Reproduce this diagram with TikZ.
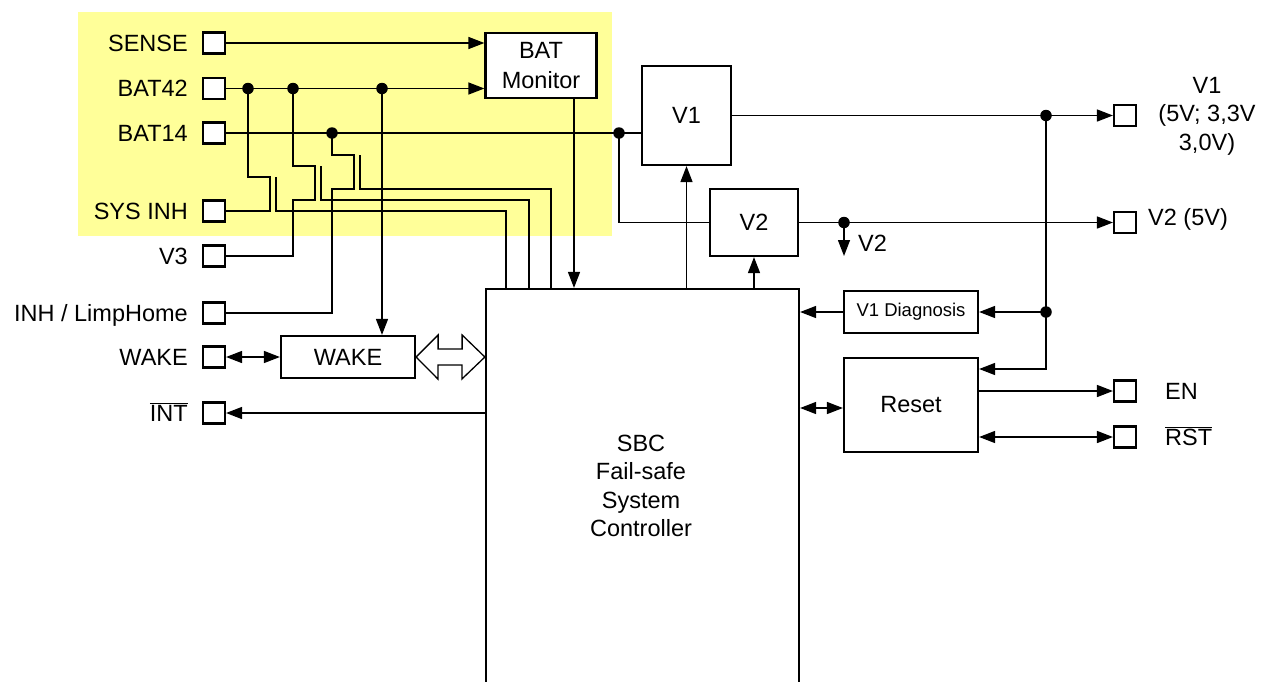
\documentclass[tikz,border=0pt]{standalone}
\usepackage{fontspec}
\setmainfont{Liberation Sans}
\usetikzlibrary{arrows.meta,calc}
\definecolor{hl}{HTML}{FFFF99}
\tikzset{
  txt/.style={font=\fontsize{23.5}{28.5}\selectfont, inner sep=0pt},
  blk/.style={draw, line width=2.2pt, fill=white, inner sep=0pt, align=center, font=\fontsize{23.5}{30}\selectfont},
  pinbox/.style={draw, line width=2.1pt, fill=white, minimum width=22pt, minimum height=21pt, inner sep=0pt},
  wire/.style={line width=1.4pt},
  arr/.style={wire, -{Triangle[length=16pt,width=12pt]}},
  darr/.style={wire, {Triangle[length=16pt,width=12pt]}-{Triangle[length=16pt,width=12pt]}},
  jdot/.style={circle, fill, inner sep=0pt, minimum size=11.5pt},
}
\begin{document}
\begin{tikzpicture}[x=1pt,y=-1pt]
\useasboundingbox (0,0) rectangle (1269,681);
\clip (0,0) rectangle (1269,681);
\fill[hl] (78,12) rectangle (612,236);

% left pins
\foreach \n/\y in {SENSE/43, BATa/88.5, BATb/133, SYS/211, Vthree/256, INH/313, WAKE/357, INT/413}
  \node[pinbox] (p\n) at (214,\y) {};
\node[txt, anchor=base east] (lSENSE) at (188,51) {SENSE};
\node[txt, anchor=base east] (lBATa) at (188,96.5) {BAT42};
\node[txt, anchor=base east] (lBATb) at (188,141) {BAT14};
\node[txt, anchor=base east] (lSYS) at (188,219) {SYS INH};
\node[txt, anchor=base east] (lV3) at (188,264) {V3};
\node[txt, anchor=base east] (lINH) at (188,321) {INH / LimpHome};
\node[txt, anchor=base east] (lWAKE) at (188,365) {WAKE};
\node[txt, anchor=base east] (lINT) at (188,421) {$\overline{\hbox{INT}}$};

% right pins
\foreach \n/\y in {Vone/115.5, Vtwo/222.5, EN/391, RST/437}
  \node[pinbox] (p\n) at (1125,\y) {};
\node[txt, align=center] (lV1) at (1207,116) {V1\\(5V; 3,3V\\3,0V)};
\node[txt, anchor=base west] (lV2) at (1148,225) {V2 (5V)};
\node[txt, anchor=base west] (lEN) at (1165,399) {EN};
\node[txt, anchor=base west] (lRST) at (1165,445) {$\overline{\hbox{RST}}$};

% blocks
\node[blk, minimum width=111pt, minimum height=65pt] (BATM) at (541,65.5) {BAT\\Monitor};
\node[blk, minimum width=89pt, minimum height=99pt] (V1) at (686.5,115.5) {V1};
\node[blk, minimum width=88pt, minimum height=67pt] (V2) at (754,222.5) {V2};
\node[blk, minimum width=313pt, minimum height=420pt] (sbc) at (642.5,499) {};
\node[txt, align=center] (sbct) at (641,486) {SBC\\Fail-safe\\System\\Controller};
\node[blk, minimum width=134pt, minimum height=42pt] (WAKEb) at (348,357) {WAKE};
\node[blk, minimum width=134pt, minimum height=42pt, font=\fontsize{18.5}{22}\selectfont] (V1D) at (911,312) {V1 Diagnosis};
\node[blk, minimum width=134pt, minimum height=94pt] (Reset) at (911,405) {Reset};

% junctions
\coordinate (a1) at (248,88.5);
\coordinate (a2) at (293,88.5);
\coordinate (a3) at (382,88.5);
\coordinate (b1) at (332,133);
\coordinate (b2) at (619,133);
\coordinate (c1) at (1046,115.5);
\coordinate (c2) at (1046,312);
\coordinate (d1) at (844,222.5);
\coordinate (s1) at (276,177);
\coordinate (s2) at (321,166);
\coordinate (s3) at (360,155);
\coordinate (v2tip) at (844,256);

% BAT monitor inputs
\draw[arr] (pSENSE.east) -- (pSENSE.east -| BATM.west);
\draw[arr] (pBATa.east) -- (pBATa.east -| BATM.west);
\draw[arr] ([xshift=33pt]BATM.south) -- ([xshift=33pt]BATM.south |- sbc.north);

% jumper wiring
\draw[wire] (a1) -- (248,177) -- (270,177) -- (270,211) -- (pSYS.east);
\draw[wire] (s1) -- (276,211) -- (506,211) -- (506,211 |- sbc.north);
\draw[wire] (a2) -- (293,166) -- (315,166) -- (315,200) -- (293,200) |- (pVthree.east);
\draw[wire] (s2) -- (321,200) -- (529,200) -- (529,200 |- sbc.north);
\draw[wire] (b1) -- (332,155) -- (354,155) -- (354,189) -- (332,189) |- (pINH.east);
\draw[wire] (s3) -- (360,189) -- (551,189) -- (551,189 |- sbc.north);
\draw[arr] (a3) -- (a3 |- WAKEb.north);

% BAT14 / regulators
\draw[wire] (pBATb.east) -- (pBATb.east -| V1.west);
\draw[wire] (b2) |- (V2.west);
\draw[arr] (V1.south |- sbc.north) -- (V1.south);
\draw[arr] (V2.south |- sbc.north) -- (V2.south);
\draw[arr] (V1.east) -- (pVone.west);
\draw[arr] (V2.east) -- (pVtwo.west);
\draw[arr] (d1) -- (v2tip);
\node[txt, anchor=base west] (lV2s) at (858,251) {V2};

% V1 supervision
\draw[arr] (c1) |- ([yshift=36pt]Reset.east);
\draw[arr] (c2) -- (V1D.east);
\draw[arr] (V1D.west) -- (V1D.west -| sbc.east);
\draw[darr] ([yshift=-3pt]Reset.west -| sbc.east) -- ([yshift=-3pt]Reset.west);
\draw[arr] (pEN.west -| Reset.east) -- (pEN.west);
\draw[darr] (pRST.west -| Reset.east) -- (pRST.west);

% wake / int
\draw[darr] (pWAKE.east) -- (WAKEb.west);
\draw[arr] (pINT.east -| sbc.west) -- (pINT.east);
\draw[line width=1.3pt, fill=white] (WAKEb.east) -- ++(22,-22) -- ++(0,14) -- ++(24,0) -- ++(0,-14)
  -- (WAKEb.east -| sbc.west) -- ++(-23,22) -- ++(0,-14) -- ++(-24,0) -- ++(0,14) -- cycle;

% dots
\foreach \c in {a1,a2,a3,b1,b2,c1,c2,d1} \node[jdot] at (\c) {};
\end{tikzpicture}
\end{document}
